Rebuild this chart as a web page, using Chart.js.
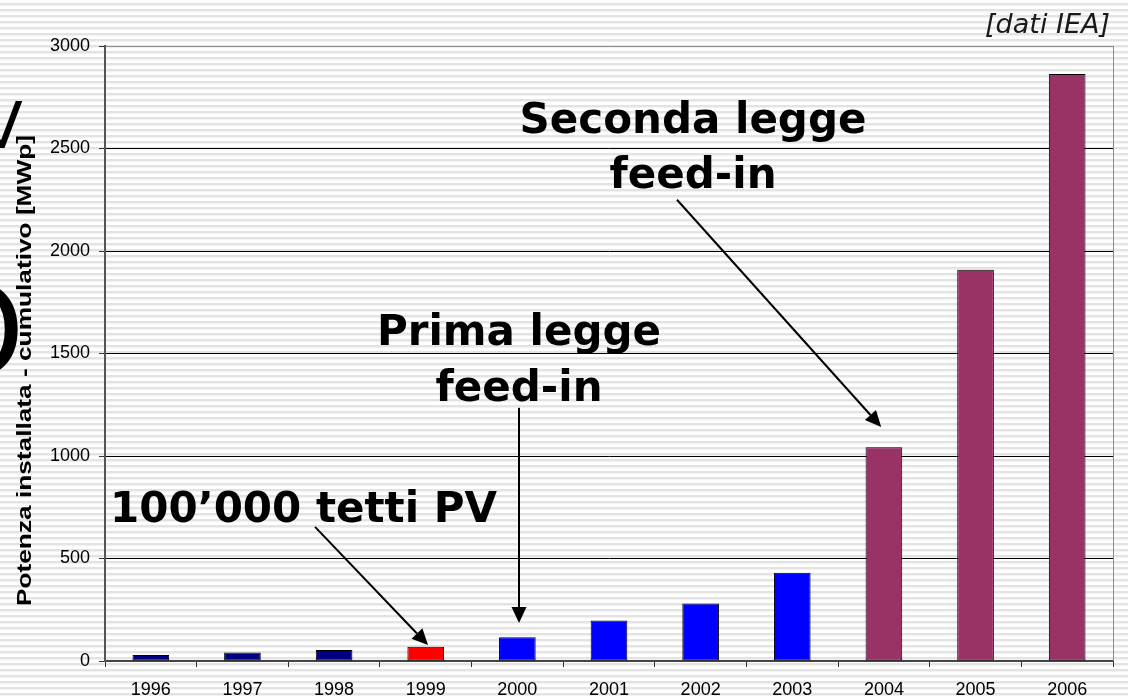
<!DOCTYPE html>
<html>
<head>
<meta charset="utf-8">
<script src="https://cdn.jsdelivr.net/npm/chart.js@4/dist/chart.umd.min.js"></script>
<style>
  html, body { margin: 0; padding: 0; }
  body {
    width: 1128px; height: 697px; overflow: hidden; position: relative;
    background: repeating-linear-gradient(to bottom, #ffffff 0px, #ffffff 3px, #e3e3e3 3px, #e3e3e3 5px, #f2f2f2 5px, #f2f2f2 6px);
  }
  canvas { position: absolute; left: 0; top: 0; }
</style>
</head>
<body>
<canvas id="c" width="1128" height="697"></canvas>
<script>
// ---- data ----
const years = ['1996','1997','1998','1999','2000','2001','2002','2003','2004','2005','2006'];
const capacityMWp = [29, 42, 54, 70, 116, 197, 280, 431, 1043, 1909, 2864];
const yMin = 0;
const yMax = 3000;
const yStep = 500;
const yTitle = 'Potenza installata - cumulativo [MWp]';

// ---- styles ----
const NAVY = '#000080', RED = '#FF0000', BLUE = '#0000FF', PLUM = '#993366';
const barPalette = [NAVY, NAVY, NAVY, RED, BLUE, BLUE, BLUE, BLUE, PLUM, PLUM, PLUM];

// ---- annotations (category-index / value anchors) ----
const labelNotes = [
  { lines: ['100\u2019000 tetti PV'], x: 1.666, y: [680] },
  { lines: ['Prima legge', 'feed-in'], x: 4.018, y: [1543, 1266] },
  { lines: ['Seconda legge', 'feed-in'], x: 5.917, y: [2577, 2309] }
];
const arrowNotes = [
  { from: [1.792, 654], to: [3.025, 78] },
  { from: [4.018, 1235], to: [4.018, 185] },
  { from: [5.742, 2250], to: [7.97, 1142] }
];

const annotationPlugin = {
  id: 'notes',
  afterDatasetsDraw(chart) {
    const ctx = chart.ctx;
    const xs = chart.scales.x, ys = chart.scales.y;
    const area = chart.chartArea;
    ctx.save();
    // right border of plot area
    ctx.strokeStyle = '#8c8c8c';
    ctx.lineWidth = 1;
    ctx.beginPath();
    ctx.moveTo(area.right + 0.5, area.top);
    ctx.lineTo(area.right + 0.5, area.bottom);
    ctx.stroke();

    // y-axis title (stretched along its length, as in the source)
    ctx.save();
    ctx.translate(25, (area.top + area.bottom) / 2 + 17);
    ctx.rotate(-Math.PI / 2);
    ctx.scale(1.25, 1);
    ctx.font = 'bold 21px "Liberation Sans", Arial, sans-serif';
    ctx.fillStyle = '#000';
    ctx.textAlign = 'center';
    ctx.textBaseline = 'middle';
    ctx.fillText(yTitle, 0, 0);
    ctx.restore();

    // arrows
    ctx.strokeStyle = '#000';
    ctx.fillStyle = '#000';
    arrowNotes.forEach(a => {
      const x1 = xs.getPixelForValue(a.from[0]), y1 = ys.getPixelForValue(a.from[1]);
      const x2 = xs.getPixelForValue(a.to[0]), y2 = ys.getPixelForValue(a.to[1]);
      const ang = Math.atan2(y2 - y1, x2 - x1);
      const hl = 16, hw = 7.5;
      const bx = x2 - hl * Math.cos(ang), by = y2 - hl * Math.sin(ang);
      ctx.lineWidth = 2;
      ctx.beginPath();
      ctx.moveTo(x1, y1);
      ctx.lineTo(bx, by);
      ctx.stroke();
      ctx.beginPath();
      ctx.moveTo(x2, y2);
      ctx.lineTo(bx + hw * Math.sin(ang), by - hw * Math.cos(ang));
      ctx.lineTo(bx - hw * Math.sin(ang), by + hw * Math.cos(ang));
      ctx.closePath();
      ctx.fill();
    });

    // labels
    ctx.font = 'bold 42px "DejaVu Sans", Verdana, sans-serif';
    ctx.textAlign = 'center';
    ctx.textBaseline = 'alphabetic';
    labelNotes.forEach(n => {
      const x = xs.getPixelForValue(n.x);
      n.lines.forEach((t, i) => {
        ctx.fillText(t, x, ys.getPixelForValue(n.y[i]));
      });
    });

    // source
    ctx.font = 'italic 27px "DejaVu Sans", Verdana, sans-serif';
    ctx.textAlign = 'right';
    ctx.fillStyle = '#1a1a1a';
    ctx.fillText('[dati IEA]', 1110, 33);
    ctx.restore();
  }
};

// cut-off slide title letters at left
const edgePlugin = {
  id: 'edge',
  afterDraw(chart) {
    const ctx = chart.ctx;
    ctx.save();
    ctx.fillStyle = '#000';
    ctx.textAlign = 'left';
    ctx.textBaseline = 'alphabetic';
    ctx.font = '64px "DejaVu Sans", Verdana, sans-serif';
    ctx.fillText('V', -21, 148);
    ctx.font = '124px "DejaVu Sans", Verdana, sans-serif';
    ctx.fillText('O', -73, 375);
    ctx.restore();
  }
};

new Chart(document.getElementById('c'), {
  type: 'bar',
  data: {
    labels: years,
    datasets: [{
      data: capacityMWp,
      backgroundColor: barPalette,
      borderColor: '#000',
      borderWidth: 1,
      borderSkipped: false,
      barPercentage: 0.4,
      categoryPercentage: 1.0
    }]
  },
  options: {
    responsive: false,
    animation: false,
    events: [],
    layout: { padding: { left: 0, top: 46, right: 15, bottom: 0 } },
    plugins: { legend: { display: false }, tooltip: { enabled: false }, title: { display: false } },
    scales: {
      x: {
        afterFit(s) { s.height = 36; },
        grid: {
          display: true,
          drawOnChartArea: false,
          drawTicks: true,
          tickLength: 6,
          tickColor: '#333',
          offset: true
        },
        border: { display: true, color: '#444', width: 2 },
        ticks: {
          color: '#000',
          padding: 12,
          font: { family: '"Liberation Sans", Arial, sans-serif', size: 18 },
          maxRotation: 0
        }
      },
      y: {
        min: yMin,
        max: yMax,
        afterFit(s) { s.width = 105; },
        grid: {
          color: (c) => (c.tick && c.tick.value === yMax) ? '#8c8c8c' : (c.tick && c.tick.value === 0 ? 'rgba(0,0,0,0)' : '#000'),
          lineWidth: 1,
          drawTicks: true,
          tickLength: 6,
          tickColor: '#333'
        },
        border: { display: true, color: '#555', width: 2 },
        ticks: {
          stepSize: yStep,
          color: '#000',
          padding: 9,
          callback: (v) => String(v),
          font: { family: '"Liberation Sans", Arial, sans-serif', size: 18 }
        },
        title: { display: false }
      }
    }
  },
  plugins: [annotationPlugin, edgePlugin]
});
</script>
</body>
</html>
